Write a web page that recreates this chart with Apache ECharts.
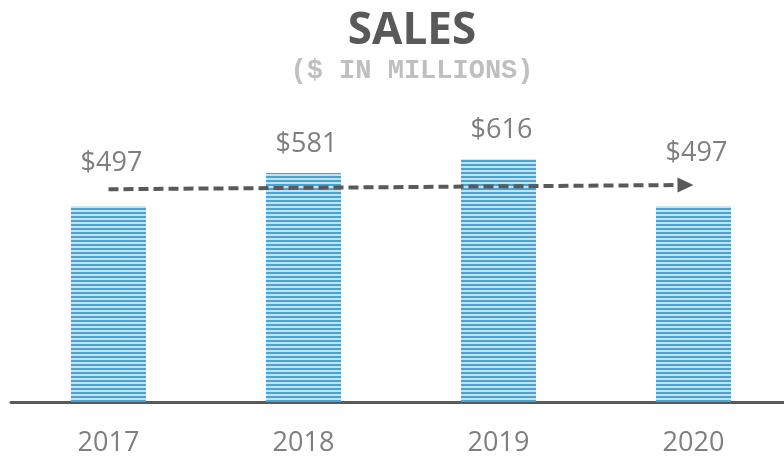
<!DOCTYPE html>
<html><head><meta charset="utf-8">
<script src="https://cdn.jsdelivr.net/npm/echarts@6/dist/echarts.min.js"></script>
<style>html,body{margin:0;padding:0;background:#fff}#c{width:784px;height:459px}</style>
</head><body><div id="c"></div>
<script>
const categories = ['2017', '2018', '2019', '2020'];
const sales = [497, 581, 616, 497];
const labelTexts = ['$497', '$581', '$616', '$497'];
const labelGaps = [29, 15, 15, 39];
const trendStart = [0, 540];
const trendEnd = [3, 551];

function stripePattern() {
  const cv = document.createElement('canvas');
  cv.width = 4; cv.height = 4;
  const ctx = cv.getContext('2d');
  ctx.fillStyle = '#c3e1f0'; ctx.fillRect(0, 0, 4, 4);
  ctx.fillStyle = '#4aa4d0'; ctx.fillRect(0, 0, 4, 2);
  return { image: cv, repeat: 'repeat' };
}

const chart = echarts.init(document.getElementById('c'));
chart.setOption({
  animation: false,
  title: [
    { text: 'SALES', left: 412, top: 9, textAlign: 'center', padding: 0,
      textStyle: { fontFamily: 'Open Sans', fontWeight: 'bold', fontSize: 44, color: '#595959' } },
    { text: '($ IN MILLIONS)', left: 412, top: 58, textAlign: 'center', padding: 0,
      textStyle: { fontFamily: 'Liberation Mono', fontWeight: 'bold', fontSize: 27, color: '#bfbfbf' } }
  ],
  grid: { left: 11, width: 780, top: 8, bottom: 57, containLabel: false, outerBoundsMode: 'none' },
  xAxis: {
    type: 'category', data: categories,
    axisLine: { lineStyle: { color: '#595959', width: 3 } },
    axisTick: { show: false },
    axisLabel: { fontFamily: 'Open Sans', fontSize: 27, color: '#7f7f7f', margin: 28 }
  },
  yAxis: { type: 'value', min: 0, max: 1000, show: false, splitLine: { show: false } },
  series: [{
    type: 'bar', barWidth: 75,
    data: sales.map((v, i) => ({
      value: v,
      label: { show: true, position: 'top', distance: labelGaps[i], offset: [3, 0],
        formatter: labelTexts[i], fontFamily: 'Open Sans', fontSize: 27, color: '#7f7f7f' }
    })),
    itemStyle: { color: stripePattern() },
    markLine: {
      silent: true,
      symbol: ['none', 'triangle'],
      symbolSize: [15, 16],
      symbolOffset: [[0, 0], [0, 8]],
      label: { show: false },
      lineStyle: { color: '#595959', width: 4, type: [10, 5] },
      data: [[{ coord: trendStart }, { coord: trendEnd }]]
    }
  }]
});
</script></body></html>
